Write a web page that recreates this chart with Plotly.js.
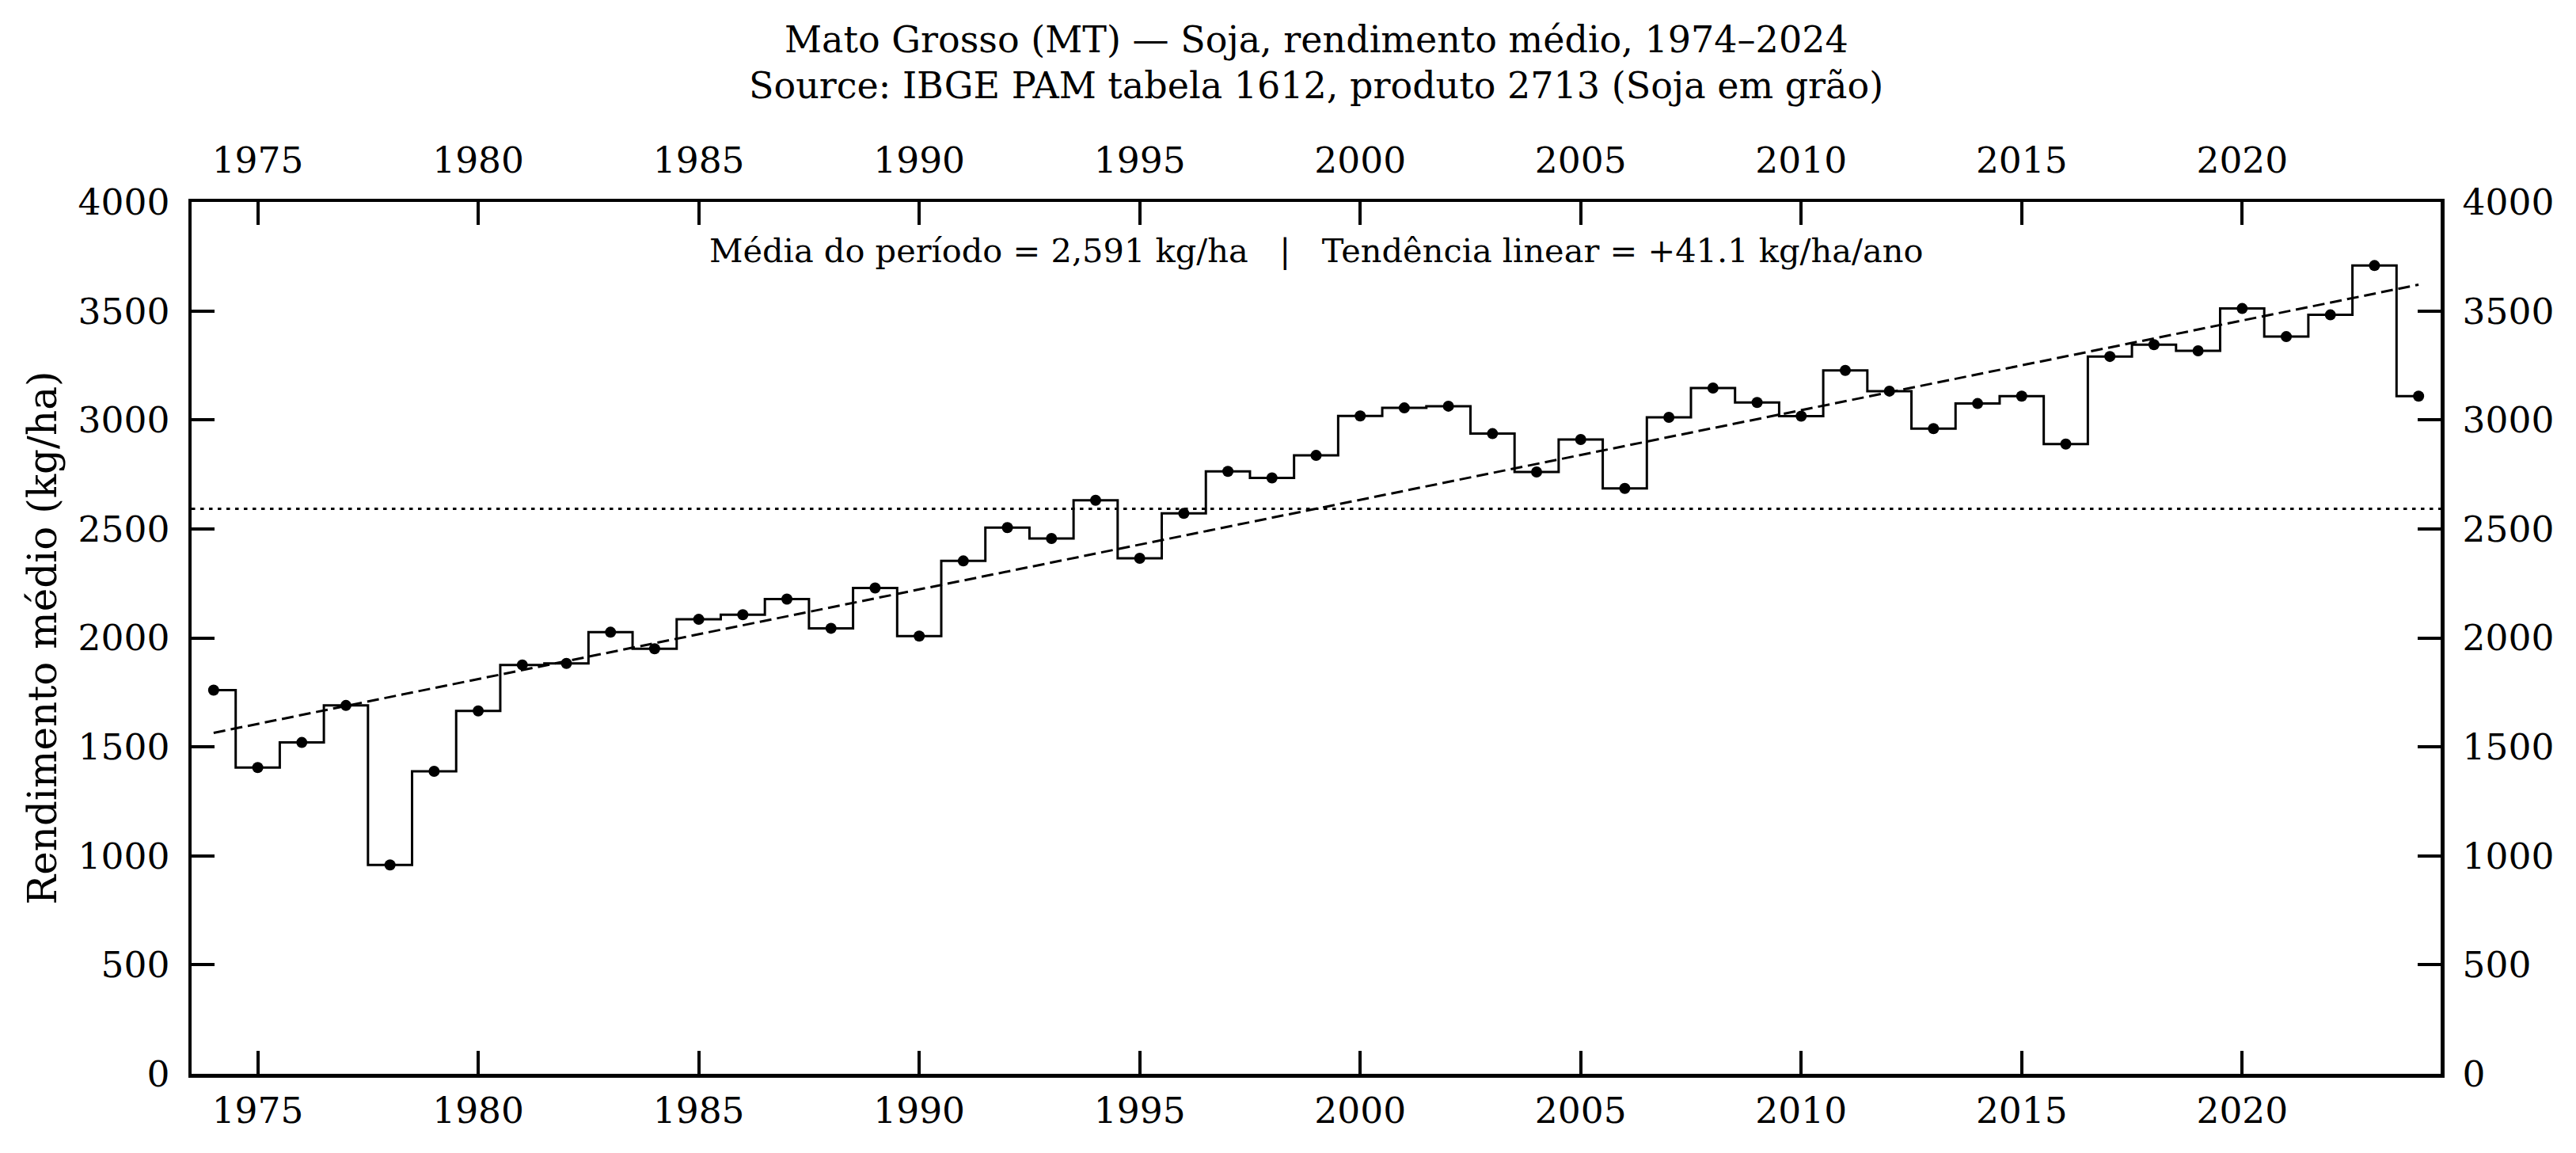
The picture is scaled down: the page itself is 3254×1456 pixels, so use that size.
<!DOCTYPE html>
<html>
<head>
<meta charset="utf-8">
<script src="https://cdn.plot.ly/plotly-3.0.1.min.js"></script>
<style>html,body{margin:0;padding:0;background:#fff;}</style>
</head>
<body>
<div id="chart" style="width:3254px;height:1456px;"></div>
<script>
const years = [1974,1975,1976,1977,1978,1979,1980,1981,1982,1983,1984,1985,1986,1987,1988,1989,1990,1991,1992,1993,1994,1995,1996,1997,1998,1999,2000,2001,2002,2003,2004,2005,2006,2007,2008,2009,2010,2011,2012,2013,2014,2015,2016,2017,2018,2019,2020,2021,2022,2023,2024];
const yieldKgHa = [1760,1405,1520,1690,958,1388,1665,1876,1883,2026,1950,2085,2106,2178,2044,2229,2008,2353,2506,2456,2631,2365,2571,2764,2734,2837,3018,3055,3063,2937,2761,2910,2686,3012,3146,3080,3017,3227,3132,2960,3075,3109,2889,3291,3345,3317,3511,3382,3482,3708,3109];
const xTicks = [1975,1980,1985,1990,1995,2000,2005,2010,2015,2020];
const yTicks = [0,500,1000,1500,2000,2500,3000,3500,4000];
const titleLine1 = "Mato Grosso (MT) — Soja, rendimento médio, 1974–2024";
const titleLine2 = "Source: IBGE PAM tabela 1612, produto 2713 (Soja em grão)";
const statsText = "Média do período = 2,591 kg/ha\u00a0\u00a0\u00a0|\u00a0\u00a0\u00a0Tendência linear = +41.1 kg/ha/ano";
const yTitle = "Rendimento médio (kg/ha)";

// mean and least-squares trend derived from the data
const n = years.length;
const mx = years.reduce((a,b)=>a+b,0)/n;
const my = yieldKgHa.reduce((a,b)=>a+b,0)/n;
let sxy=0, sxx=0;
for (let i=0;i<n;i++){ sxy += (years[i]-mx)*(yieldKgHa[i]-my); sxx += (years[i]-mx)**2; }
const slope = sxy/sxx, icpt = my - slope*mx;
const trendX = [years[0], years[n-1]];
const trendY = trendX.map(x => icpt + slope*x);

const FONT = "DejaVu Serif";
const xRange = [1973.5, 2024.5];
const yRange = [0, 4000];
const H = 1456, PT = 255, PH = 1101;

const traces = [
  {x: years, y: yieldKgHa, type:'scatter', mode:'lines', line:{shape:'hvh', color:'#000', width:3}, hoverinfo:'skip', showlegend:false},
  {x: years, y: yieldKgHa, type:'scatter', mode:'markers', marker:{color:'#000', size:14}, hoverinfo:'skip', showlegend:false},
  {x: trendX, y: trendY, type:'scatter', mode:'lines', line:{color:'#000', width:3, dash:'15px,7px'}, hoverinfo:'skip', showlegend:false},
  {x: [years[0]], y: [yieldKgHa[0]], xaxis:'x2', yaxis:'y2', type:'scatter', mode:'markers', marker:{opacity:0}, hoverinfo:'skip', showlegend:false}
];

const axCommon = {
  showgrid:false, zeroline:false, showline:true, linecolor:'#000', linewidth:4.5,
  ticks:'inside', ticklen:29, tickwidth:4, tickcolor:'#000',
  tickfont:{family:FONT, size:45.5, color:'#000'}, fixedrange:true
};

const layout = {
  width:3254, height:1456,
  margin:{l:242, r:171, t:255, b:100, pad:0},
  paper_bgcolor:'#fff', plot_bgcolor:'#fff',
  font:{family:FONT, color:'#000'},
  xaxis: Object.assign({}, axCommon, {range:xRange, tickmode:'array', tickvals:xTicks, ticktext:xTicks.map(String), side:'bottom', ticklabelstandoff:3}),
  xaxis2: Object.assign({}, axCommon, {range:xRange, tickmode:'array', tickvals:xTicks, ticktext:xTicks.map(String), side:'top', overlaying:'x', anchor:'y', ticklabelstandoff:14}),
  yaxis: Object.assign({}, axCommon, {range:yRange, tickmode:'array', tickvals:yTicks, ticktext:yTicks.map(String), side:'left', ticklabelstandoff:14,
    title:{text:yTitle, font:{family:FONT, size:50, color:'#000'}, standoff:12}}),
  yaxis2: Object.assign({}, axCommon, {range:yRange, tickmode:'array', tickvals:yTicks, ticktext:yTicks.map(String), side:'right', overlaying:'y', anchor:'x', ticklabelstandoff:14}),
  shapes:[{type:'line', xref:'paper', x0:0, x1:1, yref:'y', y0:my, y1:my, line:{color:'#000', width:3, dash:'4.5px,6.5px'}, layer:'above'}],
  annotations:[
    {text:titleLine1, xref:'paper', yref:'paper', x:0.5, y:1 + (PT-50)/PH, xanchor:'center', yanchor:'middle', showarrow:false, font:{family:FONT, size:46, color:'#000'}},
    {text:titleLine2, xref:'paper', yref:'paper', x:0.5, y:1 + (PT-108)/PH, xanchor:'center', yanchor:'middle', showarrow:false, font:{family:FONT, size:46, color:'#000'}},
    {text:statsText, xref:'paper', yref:'paper', x:0.5, y:1 - (317-PT)/PH, xanchor:'center', yanchor:'middle', showarrow:false, font:{family:FONT, size:41.5, color:'#000'}}
  ]
};

Plotly.newPlot('chart', traces, layout, {staticPlot:true, displayModeBar:false});
</script>
</body>
</html>
